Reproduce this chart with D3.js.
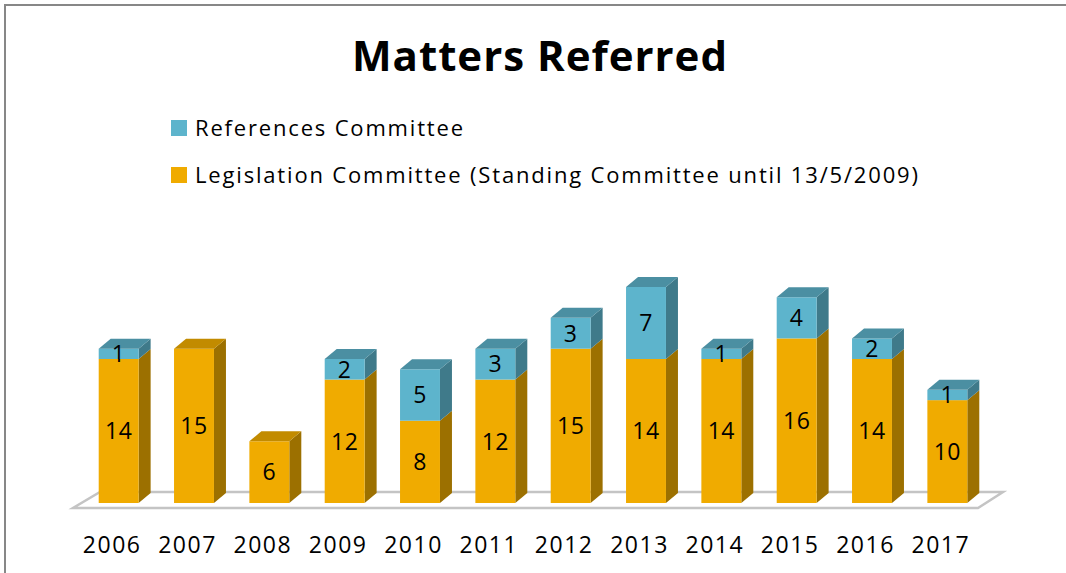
<!DOCTYPE html>
<html>
<head>
<meta charset="utf-8">
<script src="https://cdn.jsdelivr.net/npm/d3@7.9.0/dist/d3.min.js"></script>
<style>
  html, body { margin: 0; padding: 0; background: #fff; }
  svg { display: block; font-family: "Open Sans", "Noto Sans", sans-serif; }
</style>
</head>
<body>
<svg id="chart" width="1066" height="573"></svg>
<script>
const years = ['2006', '2007', '2008', '2009', '2010', '2011', '2012', '2013', '2014', '2015', '2016', '2017'];
const legislation = [14, 15, 6, 12, 8, 12, 15, 14, 14, 16, 14, 10];
const references = [1, 0, 0, 2, 5, 3, 3, 7, 1, 4, 2, 1];
const seriesNames = ['References Committee', 'Legislation Committee (Standing Committee until 13/5/2009)'];

const svg = d3.select('#chart');

// frame
svg.append('path')
  .attr('d', 'M5,573V5H1066')
  .attr('fill', 'none')
  .attr('stroke', '#878787')
  .attr('stroke-width', 2);

// title
svg.append('text')
  .attr('x', 352).attr('y', 71)
  .attr('font-size', 42).attr('font-weight', 'bold')
  .attr('textLength', 375).attr('lengthAdjust', 'spacing')
  .text('Matters Referred');

// legend
const legendColors = ['#5db4cc', '#f0ab00'];
seriesNames.forEach((name, i) => {
  let y = 120 + i * 47;
  svg.append('rect').attr('x', 171).attr('y', y).attr('width', 16).attr('height', 16).attr('fill', legendColors[i]);
  svg.append('text')
    .attr('x', 195).attr('y', y + 16)
    .attr('font-size', 22)
    .attr('textLength', i === 0 ? 268 : 723).attr('lengthAdjust', 'spacing')
    .text(name);
});

const x = d3.scaleBand().domain(years).range([81, 985]).paddingInner(0.47).paddingOuter(0.235);
const y = d3.scaleLinear().domain([0, 21]).range([503, 287]);

const dx = 12, dy = 10;   // bar depth
const fdx = 25, fdy = 16; // floor depth

// floor
const floorY = 508;
svg.append('path')
  .attr('d', `M73,${floorY}L978,${floorY}L${978 + fdx},${floorY - fdy}L${73 + fdx + 2},${floorY - fdy}Z`)
  .attr('fill', '#ffffff')
  .attr('stroke', '#c4c4c4')
  .attr('stroke-width', 2.5);

const palette = {
  leg: { front: '#f0ab00', side: '#9c7000', top: '#c28b00' },
  ref: { front: '#5db4cc', side: '#3f7a8a', top: '#4b8fa2' }
};

const g = svg.append('g');

years.forEach((yr, i) => {
  const x0 = x(yr), w = x.bandwidth();
  const segs = [
    { v0: 0, v1: legislation[i], c: palette.leg, val: legislation[i] },
    { v0: legislation[i], v1: legislation[i] + references[i], c: palette.ref, val: references[i] }
  ].filter(s => s.val > 0);

  segs.forEach((s, k) => {
    const yb = y(s.v0), yt = y(s.v1);
    // side face
    g.append('path')
      .attr('d', `M${x0 + w},${yb}L${x0 + w + dx},${yb - dy}L${x0 + w + dx},${yt - dy}L${x0 + w},${yt}Z`)
      .attr('fill', s.c.side);
    // front face
    g.append('rect')
      .attr('x', x0).attr('y', yt).attr('width', w).attr('height', yb - yt)
      .attr('fill', s.c.front);
    // top face only on the top segment
    if (k === segs.length - 1) {
      g.append('path')
        .attr('d', `M${x0},${yt}L${x0 + dx},${yt - dy}L${x0 + w + dx},${yt - dy}L${x0 + w},${yt}Z`)
        .attr('fill', s.c.top);
    }
    g.append('text')
      .attr('x', x0 + w / 2).attr('y', (yb + yt) / 2)
      .attr('dy', '0.36em')
      .attr('text-anchor', 'middle')
      .attr('font-size', 23)
      .attr('letter-spacing', 0.5)
      .text(s.val);
  });

  svg.append('text')
    .attr('x', x0 + w / 2 - 6.5).attr('y', 553)
    .attr('text-anchor', 'middle')
    .attr('font-size', 23)
    .attr('letter-spacing', 1.5)
    .text(yr);
});
</script>
</body>
</html>
